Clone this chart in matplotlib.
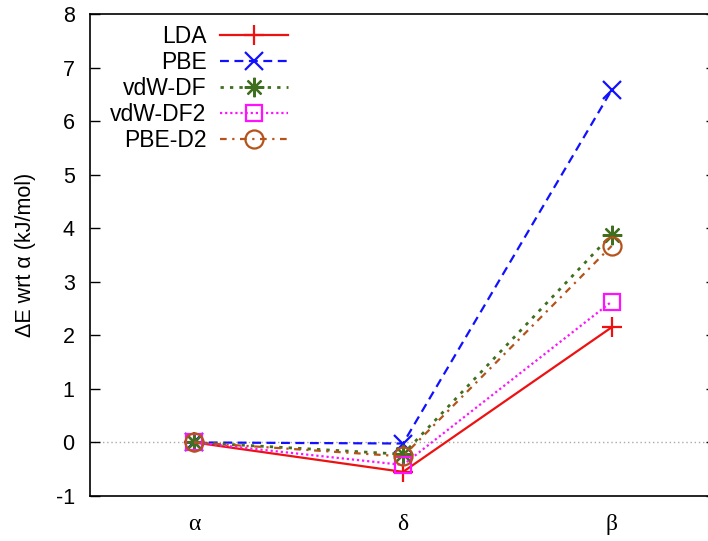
import matplotlib
matplotlib.use("Agg")
import matplotlib.pyplot as plt

phases = ["α", "δ", "β"]
LDA = [0.0, -0.55, 2.15]
PBE = [0.0, -0.02, 6.58]
vdW_DF = [0.0, -0.22, 3.88]
vdW_DF2 = [0.0, -0.42, 2.63]
PBE_D2 = [0.0, -0.26, 3.67]
yticks = [-1, 0, 1, 2, 3, 4, 5, 6, 7, 8]

plt.rcParams['font.family'] = ['Liberation Sans', 'DejaVu Sans']
plt.rcParams['axes.unicode_minus'] = False

fig = plt.figure(figsize=(7.08, 5.41), dpi=100)
ax = fig.add_axes([90/708, 1-496/541, (716-90)/708, (496-14)/541])

x = list(range(len(phases)))
ax.axhline(0, color='#aaaaaa', lw=1.0, ls=(0, (1, 2)), zorder=1)

ax.plot(x, LDA, color='#ee1111', ls='-', lw=1.6, marker='+', ms=15, mew=1.6, label='LDA')
ax.plot(x, PBE, color='#1111ff', ls=(0, (4, 2.5)), lw=1.6, marker='x', ms=13, mew=1.6, label='PBE')
ax.plot(x, vdW_DF, color='#3f6f1f', ls=(0, (1.2, 2.2)), lw=2.0, marker=(8, 2, 0), ms=14, mew=1.6, label='vdW-DF')
ax.plot(x, vdW_DF2, color='#ff11ff', ls=(0, (1, 1.3)), lw=1.6, marker='s', ms=12, mfc='none', mew=1.6, label='vdW-DF2')
ax.plot(x, PBE_D2, color='#b5531a', ls=(0, (3, 2.5, 1, 2.5)), lw=1.6, marker='o', ms=13, mfc='none', mew=1.6, label='PBE-D2')

ax.set_xlim(-0.5, 2.5)
ax.set_ylim(-1, 8)
ax.set_yticks(yticks)
ax.set_xticks(x)
ax.set_xticklabels(phases, family=['Liberation Serif', 'DejaVu Serif'], fontsize=17)
ax.tick_params(axis='x', length=0, pad=13)
ax.tick_params(axis='y', direction='in', length=7, width=1, labelsize=15.5, right=True, pad=11)
for s in ax.spines.values():
    s.set_linewidth(1.2)
ax.set_ylabel('ΔE wrt α (kJ/mol)', fontsize=15.5, labelpad=14)

leg = ax.legend(loc='upper right', bbox_to_anchor=(288/708, 1 - 25/541), bbox_transform=fig.transFigure,
                frameon=False, markerfirst=False, fontsize=16.5, handlelength=2.95,
                labelspacing=0.13, handletextpad=0.6, borderaxespad=0, borderpad=0)

fig.savefig('out.png', dpi=100)
